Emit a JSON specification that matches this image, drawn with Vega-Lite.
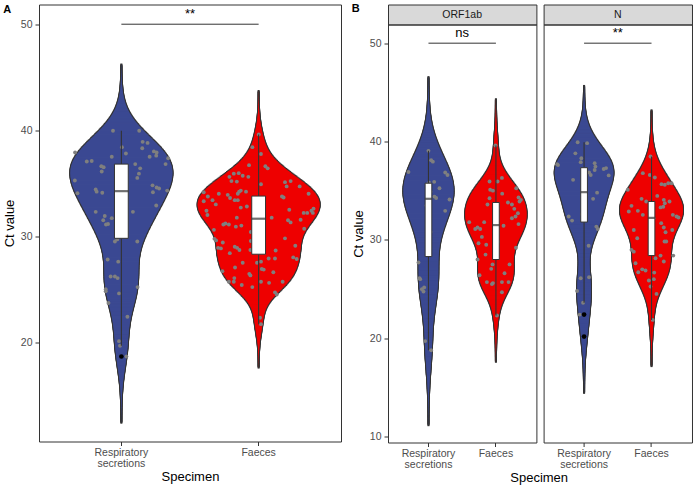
{
"$schema": "https://vega.github.io/schema/vega-lite/v6.json",
"padding": {"left": 2, "top": 2.5, "right": 2, "bottom": 2},
"autosize": {"type": "pad"},
"config": {
"font": "Liberation Sans",
"view": {"stroke": "#333333", "strokeWidth": 1},
"axis": {"grid": false, "domain": false, "tickColor": "#333333", "tickSize": 4, "tickWidth": 1, "labelColor": "#4D4D4D", "labelFontSize": 10.5, "labelPadding": 3, "titleColor": "#000000", "titleFontSize": 13, "titleFontWeight": "normal", "titlePadding": 4, "labelLineHeight": 11},
"axisX": {"labelPadding": 2, "titlePadding": 1.7},
"axisY": {"labelPadding": 3, "titlePadding": 4},
"title": {"fontSize": 11, "fontWeight": "bold", "color": "#000000", "anchor": "start"}
},
"datasets": {
"sig": [
{"panel": "A", "g1": "Respiratory secretions", "g2": "Faeces", "y": 50, "label": "**"},
{"panel": "ORF1ab", "g1": "Respiratory secretions", "g2": "Faeces", "y": 50, "label": "ns"},
{"panel": "N", "g1": "Respiratory secretions", "g2": "Faeces", "y": 50, "label": "**"}
],
"pts": [
{"panel":"A","Specimen":"Respiratory secretions","Ct":37.9,"jitter":-0.337},
{"panel":"A","Specimen":"Respiratory secretions","Ct":37.05,"jitter":-0.252},
{"panel":"A","Specimen":"Respiratory secretions","Ct":37.1,"jitter":-0.216},
{"panel":"A","Specimen":"Respiratory secretions","Ct":39.95,"jitter":-0.061},
{"panel":"A","Specimen":"Respiratory secretions","Ct":39.95,"jitter":0.13},
{"panel":"A","Specimen":"Respiratory secretions","Ct":38.4,"jitter":0.004},
{"panel":"A","Specimen":"Respiratory secretions","Ct":37.8,"jitter":0.033},
{"panel":"A","Specimen":"Respiratory secretions","Ct":38.9,"jitter":0.155},
{"panel":"A","Specimen":"Respiratory secretions","Ct":38.8,"jitter":0.191},
{"panel":"A","Specimen":"Respiratory secretions","Ct":38.3,"jitter":0.152},
{"panel":"A","Specimen":"Respiratory secretions","Ct":38.0,"jitter":0.237},
{"panel":"A","Specimen":"Respiratory secretions","Ct":37.9,"jitter":0.257},
{"panel":"A","Specimen":"Respiratory secretions","Ct":37.5,"jitter":0.206},
{"panel":"A","Specimen":"Respiratory secretions","Ct":37.6,"jitter":0.254},
{"panel":"A","Specimen":"Respiratory secretions","Ct":37.35,"jitter":0.341},
{"panel":"A","Specimen":"Respiratory secretions","Ct":36.8,"jitter":0.322},
{"panel":"A","Specimen":"Respiratory secretions","Ct":37.5,"jitter":-0.07},
{"panel":"A","Specimen":"Respiratory secretions","Ct":36.6,"jitter":-0.146},
{"panel":"A","Specimen":"Respiratory secretions","Ct":36.5,"jitter":-0.129},
{"panel":"A","Specimen":"Respiratory secretions","Ct":36.1,"jitter":-0.143},
{"panel":"A","Specimen":"Respiratory secretions","Ct":36.8,"jitter":0.101},
{"panel":"A","Specimen":"Respiratory secretions","Ct":36.4,"jitter":0.137},
{"panel":"A","Specimen":"Respiratory secretions","Ct":35.9,"jitter":0.128},
{"panel":"A","Specimen":"Respiratory secretions","Ct":35.5,"jitter":0.116},
{"panel":"A","Specimen":"Respiratory secretions","Ct":35.25,"jitter":-0.339},
{"panel":"A","Specimen":"Respiratory secretions","Ct":34.8,"jitter":0.227},
{"panel":"A","Specimen":"Respiratory secretions","Ct":34.6,"jitter":0.257},
{"panel":"A","Specimen":"Respiratory secretions","Ct":34.5,"jitter":0.275},
{"panel":"A","Specimen":"Respiratory secretions","Ct":34.15,"jitter":0.23},
{"panel":"A","Specimen":"Respiratory secretions","Ct":34.3,"jitter":0.334},
{"panel":"A","Specimen":"Respiratory secretions","Ct":34.4,"jitter":-0.187},
{"panel":"A","Specimen":"Respiratory secretions","Ct":34.2,"jitter":-0.18},
{"panel":"A","Specimen":"Respiratory secretions","Ct":34.1,"jitter":-0.139},
{"panel":"A","Specimen":"Respiratory secretions","Ct":34.05,"jitter":-0.32},
{"panel":"A","Specimen":"Respiratory secretions","Ct":32.9,"jitter":0.254},
{"panel":"A","Specimen":"Respiratory secretions","Ct":32.3,"jitter":-0.187},
{"panel":"A","Specimen":"Respiratory secretions","Ct":31.9,"jitter":-0.121},
{"panel":"A","Specimen":"Respiratory secretions","Ct":31.5,"jitter":-0.132},
{"panel":"A","Specimen":"Respiratory secretions","Ct":31.1,"jitter":-0.112},
{"panel":"A","Specimen":"Respiratory secretions","Ct":31.15,"jitter":-0.097},
{"panel":"A","Specimen":"Respiratory secretions","Ct":31.7,"jitter":-0.07},
{"panel":"A","Specimen":"Respiratory secretions","Ct":32.3,"jitter":0.084},
{"panel":"A","Specimen":"Respiratory secretions","Ct":29.5,"jitter":-0.047},
{"panel":"A","Specimen":"Respiratory secretions","Ct":29.5,"jitter":0.116},
{"panel":"A","Specimen":"Respiratory secretions","Ct":27.8,"jitter":-0.1},
{"panel":"A","Specimen":"Respiratory secretions","Ct":27.6,"jitter":-0.023},
{"panel":"A","Specimen":"Respiratory secretions","Ct":26.2,"jitter":-0.078},
{"panel":"A","Specimen":"Respiratory secretions","Ct":26.2,"jitter":-0.047},
{"panel":"A","Specimen":"Respiratory secretions","Ct":26.05,"jitter":-0.027},
{"panel":"A","Specimen":"Respiratory secretions","Ct":25.0,"jitter":-0.114},
{"panel":"A","Specimen":"Respiratory secretions","Ct":25.2,"jitter":0.118},
{"panel":"A","Specimen":"Respiratory secretions","Ct":24.8,"jitter":-0.114},
{"panel":"A","Specimen":"Respiratory secretions","Ct":24.6,"jitter":-0.017},
{"panel":"A","Specimen":"Respiratory secretions","Ct":23.7,"jitter":-0.094},
{"panel":"A","Specimen":"Respiratory secretions","Ct":22.4,"jitter":0.044},
{"panel":"A","Specimen":"Respiratory secretions","Ct":20.1,"jitter":-0.017},
{"panel":"A","Specimen":"Respiratory secretions","Ct":19.66,"jitter":-0.01},
{"panel":"A","Specimen":"Respiratory secretions","Ct":18.65,"jitter":0.037},
{"panel":"A","Specimen":"Respiratory secretions","Ct":36.2,"jitter":0.02},
{"panel":"A","Specimen":"Respiratory secretions","Ct":35.3,"jitter":-0.03},
{"panel":"A","Specimen":"Respiratory secretions","Ct":34.6,"jitter":0.01},
{"panel":"A","Specimen":"Respiratory secretions","Ct":33.5,"jitter":-0.02},
{"panel":"A","Specimen":"Respiratory secretions","Ct":32.6,"jitter":0.03},
{"panel":"A","Specimen":"Respiratory secretions","Ct":31.4,"jitter":-0.01},
{"panel":"A","Specimen":"Respiratory secretions","Ct":30.1,"jitter":0.02},
{"panel":"A","Specimen":"Respiratory secretions","Ct":29.7,"jitter":-0.03},
{"panel":"A","Specimen":"Faeces","Ct":37.75,"jitter":0.017},
{"panel":"A","Specimen":"Faeces","Ct":36.7,"jitter":-0.07},
{"panel":"A","Specimen":"Faeces","Ct":36.6,"jitter":0.049},
{"panel":"A","Specimen":"Faeces","Ct":36.4,"jitter":0.066},
{"panel":"A","Specimen":"Faeces","Ct":35.9,"jitter":-0.181},
{"panel":"A","Specimen":"Faeces","Ct":35.95,"jitter":-0.145},
{"panel":"A","Specimen":"Faeces","Ct":35.7,"jitter":-0.116},
{"panel":"A","Specimen":"Faeces","Ct":35.6,"jitter":-0.213},
{"panel":"A","Specimen":"Faeces","Ct":35.6,"jitter":-0.075},
{"panel":"A","Specimen":"Faeces","Ct":35.2,"jitter":-0.198},
{"panel":"A","Specimen":"Faeces","Ct":35.15,"jitter":-0.159},
{"panel":"A","Specimen":"Faeces","Ct":34.9,"jitter":0.017},
{"panel":"A","Specimen":"Faeces","Ct":35.1,"jitter":0.192},
{"panel":"A","Specimen":"Faeces","Ct":35.2,"jitter":0.233},
{"panel":"A","Specimen":"Faeces","Ct":34.7,"jitter":0.204},
{"panel":"A","Specimen":"Faeces","Ct":34.7,"jitter":0.299},
{"panel":"A","Specimen":"Faeces","Ct":34.2,"jitter":-0.142},
{"panel":"A","Specimen":"Faeces","Ct":34.3,"jitter":-0.13},
{"panel":"A","Specimen":"Faeces","Ct":34.0,"jitter":-0.152},
{"panel":"A","Specimen":"Faeces","Ct":34.2,"jitter":-0.092},
{"panel":"A","Specimen":"Faeces","Ct":34.15,"jitter":-0.4},
{"panel":"A","Specimen":"Faeces","Ct":33.75,"jitter":-0.37},
{"panel":"A","Specimen":"Faeces","Ct":34.0,"jitter":-0.29},
{"panel":"A","Specimen":"Faeces","Ct":33.9,"jitter":-0.225},
{"panel":"A","Specimen":"Faeces","Ct":33.6,"jitter":-0.208},
{"panel":"A","Specimen":"Faeces","Ct":34.0,"jitter":0.364},
{"panel":"A","Specimen":"Faeces","Ct":33.75,"jitter":0.17},
{"panel":"A","Specimen":"Faeces","Ct":33.65,"jitter":0.182},
{"panel":"A","Specimen":"Faeces","Ct":33.3,"jitter":-0.4},
{"panel":"A","Specimen":"Faeces","Ct":33.4,"jitter":-0.336},
{"panel":"A","Specimen":"Faeces","Ct":33.4,"jitter":-0.174},
{"panel":"A","Specimen":"Faeces","Ct":33.4,"jitter":-0.152},
{"panel":"A","Specimen":"Faeces","Ct":33.0,"jitter":-0.312},
{"panel":"A","Specimen":"Faeces","Ct":32.7,"jitter":-0.13},
{"panel":"A","Specimen":"Faeces","Ct":32.8,"jitter":-0.086},
{"panel":"A","Specimen":"Faeces","Ct":32.5,"jitter":0.223},
{"panel":"A","Specimen":"Faeces","Ct":32.2,"jitter":0.328},
{"panel":"A","Specimen":"Faeces","Ct":32.2,"jitter":0.354},
{"panel":"A","Specimen":"Faeces","Ct":32.4,"jitter":0.385},
{"panel":"A","Specimen":"Faeces","Ct":32.6,"jitter":0.4},
{"panel":"A","Specimen":"Faeces","Ct":32.2,"jitter":0.395},
{"panel":"A","Specimen":"Faeces","Ct":32.4,"jitter":-0.38},
{"panel":"A","Specimen":"Faeces","Ct":32.0,"jitter":-0.373},
{"panel":"A","Specimen":"Faeces","Ct":31.75,"jitter":-0.159},
{"panel":"A","Specimen":"Faeces","Ct":31.75,"jitter":0.095},
{"panel":"A","Specimen":"Faeces","Ct":31.5,"jitter":0.214},
{"panel":"A","Specimen":"Faeces","Ct":31.3,"jitter":0.233},
{"panel":"A","Specimen":"Faeces","Ct":31.55,"jitter":0.306},
{"panel":"A","Specimen":"Faeces","Ct":31.2,"jitter":-0.242},
{"panel":"A","Specimen":"Faeces","Ct":31.1,"jitter":-0.257},
{"panel":"A","Specimen":"Faeces","Ct":31.1,"jitter":-0.217},
{"panel":"A","Specimen":"Faeces","Ct":30.9,"jitter":-0.166},
{"panel":"A","Specimen":"Faeces","Ct":31.0,"jitter":-0.126},
{"panel":"A","Specimen":"Faeces","Ct":30.6,"jitter":-0.326},
{"panel":"A","Specimen":"Faeces","Ct":30.4,"jitter":-0.057},
{"panel":"A","Specimen":"Faeces","Ct":30.7,"jitter":0.332},
{"panel":"A","Specimen":"Faeces","Ct":29.75,"jitter":-0.322},
{"panel":"A","Specimen":"Faeces","Ct":29.6,"jitter":-0.31},
{"panel":"A","Specimen":"Faeces","Ct":29.8,"jitter":0.192},
{"panel":"A","Specimen":"Faeces","Ct":29.4,"jitter":-0.261},
{"panel":"A","Specimen":"Faeces","Ct":29.55,"jitter":-0.057},
{"panel":"A","Specimen":"Faeces","Ct":28.9,"jitter":-0.295},
{"panel":"A","Specimen":"Faeces","Ct":28.85,"jitter":-0.275},
{"panel":"A","Specimen":"Faeces","Ct":29.0,"jitter":-0.174},
{"panel":"A","Specimen":"Faeces","Ct":28.9,"jitter":-0.157},
{"panel":"A","Specimen":"Faeces","Ct":29.1,"jitter":0.267},
{"panel":"A","Specimen":"Faeces","Ct":28.7,"jitter":-0.06},
{"panel":"A","Specimen":"Faeces","Ct":28.4,"jitter":-0.21},
{"panel":"A","Specimen":"Faeces","Ct":28.7,"jitter":-0.14},
{"panel":"A","Specimen":"Faeces","Ct":28.65,"jitter":0.124},
{"panel":"A","Specimen":"Faeces","Ct":27.9,"jitter":0.073},
{"panel":"A","Specimen":"Faeces","Ct":27.9,"jitter":0.119},
{"panel":"A","Specimen":"Faeces","Ct":28.0,"jitter":0.252},
{"panel":"A","Specimen":"Faeces","Ct":27.85,"jitter":0.277},
{"panel":"A","Specimen":"Faeces","Ct":26.7,"jitter":-0.264},
{"panel":"A","Specimen":"Faeces","Ct":27.5,"jitter":-0.116},
{"panel":"A","Specimen":"Faeces","Ct":27.05,"jitter":-0.172},
{"panel":"A","Specimen":"Faeces","Ct":27.5,"jitter":-0.012},
{"panel":"A","Specimen":"Faeces","Ct":27.6,"jitter":0.017},
{"panel":"A","Specimen":"Faeces","Ct":26.9,"jitter":0.023},
{"panel":"A","Specimen":"Faeces","Ct":26.85,"jitter":0.037},
{"panel":"A","Specimen":"Faeces","Ct":26.6,"jitter":0.107},
{"panel":"A","Specimen":"Faeces","Ct":26.45,"jitter":-0.068},
{"panel":"A","Specimen":"Faeces","Ct":26.3,"jitter":-0.06},
{"panel":"A","Specimen":"Faeces","Ct":26.05,"jitter":-0.177},
{"panel":"A","Specimen":"Faeces","Ct":25.7,"jitter":-0.181},
{"panel":"A","Specimen":"Faeces","Ct":25.7,"jitter":-0.217},
{"panel":"A","Specimen":"Faeces","Ct":25.4,"jitter":-0.123},
{"panel":"A","Specimen":"Faeces","Ct":25.2,"jitter":-0.046},
{"panel":"A","Specimen":"Faeces","Ct":25.7,"jitter":0.017},
{"panel":"A","Specimen":"Faeces","Ct":25.6,"jitter":0.076},
{"panel":"A","Specimen":"Faeces","Ct":25.7,"jitter":0.175},
{"panel":"A","Specimen":"Faeces","Ct":24.7,"jitter":0.119},
{"panel":"A","Specimen":"Faeces","Ct":24.5,"jitter":0.132},
{"panel":"A","Specimen":"Faeces","Ct":22.3,"jitter":0.01},
{"panel":"A","Specimen":"Faeces","Ct":21.7,"jitter":0.017},
{"panel":"A","Specimen":"Faeces","Ct":39.6,"jitter":0.001},
{"panel":"A","Specimen":"Faeces","Ct":38.4,"jitter":-0.046},
{"panel":"A","Specimen":"Faeces","Ct":33.5,"jitter":0.02},
{"panel":"A","Specimen":"Faeces","Ct":33.0,"jitter":-0.03},
{"panel":"A","Specimen":"Faeces","Ct":32.6,"jitter":0.01},
{"panel":"A","Specimen":"Faeces","Ct":32.2,"jitter":-0.02},
{"panel":"A","Specimen":"Faeces","Ct":31.9,"jitter":0.03},
{"panel":"A","Specimen":"Faeces","Ct":30.5,"jitter":-0.01},
{"panel":"ORF1ab","Specimen":"Respiratory secretions","Ct":39.05,"jitter":0},
{"panel":"ORF1ab","Specimen":"Respiratory secretions","Ct":38.1,"jitter":0.04},
{"panel":"ORF1ab","Specimen":"Respiratory secretions","Ct":37.95,"jitter":0.065},
{"panel":"ORF1ab","Specimen":"Respiratory secretions","Ct":36.9,"jitter":-0.297},
{"panel":"ORF1ab","Specimen":"Respiratory secretions","Ct":36.85,"jitter":0.248},
{"panel":"ORF1ab","Specimen":"Respiratory secretions","Ct":36.6,"jitter":0.282},
{"panel":"ORF1ab","Specimen":"Respiratory secretions","Ct":35.9,"jitter":0.085},
{"panel":"ORF1ab","Specimen":"Respiratory secretions","Ct":35.25,"jitter":0.163},
{"panel":"ORF1ab","Specimen":"Respiratory secretions","Ct":34.1,"jitter":0.312},
{"panel":"ORF1ab","Specimen":"Respiratory secretions","Ct":34.4,"jitter":0.089},
{"panel":"ORF1ab","Specimen":"Respiratory secretions","Ct":34.25,"jitter":0.114},
{"panel":"ORF1ab","Specimen":"Respiratory secretions","Ct":32.95,"jitter":0.248},
{"panel":"ORF1ab","Specimen":"Respiratory secretions","Ct":27.7,"jitter":-0.148},
{"panel":"ORF1ab","Specimen":"Respiratory secretions","Ct":26.1,"jitter":-0.134},
{"panel":"ORF1ab","Specimen":"Respiratory secretions","Ct":26.0,"jitter":-0.123},
{"panel":"ORF1ab","Specimen":"Respiratory secretions","Ct":24.97,"jitter":-0.098},
{"panel":"ORF1ab","Specimen":"Respiratory secretions","Ct":24.74,"jitter":-0.074},
{"panel":"ORF1ab","Specimen":"Respiratory secretions","Ct":25.15,"jitter":-0.064},
{"panel":"ORF1ab","Specimen":"Respiratory secretions","Ct":19.7,"jitter":-0.049},
{"panel":"ORF1ab","Specimen":"Respiratory secretions","Ct":18.77,"jitter":0.04},
{"panel":"ORF1ab","Specimen":"Respiratory secretions","Ct":35.8,"jitter":0.01},
{"panel":"ORF1ab","Specimen":"Respiratory secretions","Ct":35.64,"jitter":-0.02},
{"panel":"ORF1ab","Specimen":"Respiratory secretions","Ct":34.9,"jitter":0.03},
{"panel":"ORF1ab","Specimen":"Respiratory secretions","Ct":34.5,"jitter":-0.01},
{"panel":"ORF1ab","Specimen":"Respiratory secretions","Ct":34.3,"jitter":0.02},
{"panel":"ORF1ab","Specimen":"Respiratory secretions","Ct":33.5,"jitter":-0.03},
{"panel":"ORF1ab","Specimen":"Respiratory secretions","Ct":32.5,"jitter":0.01},
{"panel":"ORF1ab","Specimen":"Respiratory secretions","Ct":31.5,"jitter":-0.02},
{"panel":"ORF1ab","Specimen":"Respiratory secretions","Ct":30.8,"jitter":0.03},
{"panel":"ORF1ab","Specimen":"Respiratory secretions","Ct":30.1,"jitter":-0.01},
{"panel":"ORF1ab","Specimen":"Faeces","Ct":39.6,"jitter":-0.006},
{"panel":"ORF1ab","Specimen":"Faeces","Ct":36.3,"jitter":0.089},
{"panel":"ORF1ab","Specimen":"Faeces","Ct":35.93,"jitter":-0.095},
{"panel":"ORF1ab","Specimen":"Faeces","Ct":35.93,"jitter":0.024},
{"panel":"ORF1ab","Specimen":"Faeces","Ct":35.1,"jitter":-0.085},
{"panel":"ORF1ab","Specimen":"Faeces","Ct":35.0,"jitter":-0.045},
{"panel":"ORF1ab","Specimen":"Faeces","Ct":34.7,"jitter":0.093},
{"panel":"ORF1ab","Specimen":"Faeces","Ct":35.25,"jitter":0.301},
{"panel":"ORF1ab","Specimen":"Faeces","Ct":34.23,"jitter":-0.095},
{"panel":"ORF1ab","Specimen":"Faeces","Ct":33.6,"jitter":-0.125},
{"panel":"ORF1ab","Specimen":"Faeces","Ct":33.8,"jitter":0.178},
{"panel":"ORF1ab","Specimen":"Faeces","Ct":33.6,"jitter":0.237},
{"panel":"ORF1ab","Specimen":"Faeces","Ct":34.3,"jitter":0.335},
{"panel":"ORF1ab","Specimen":"Faeces","Ct":34.07,"jitter":0.371},
{"panel":"ORF1ab","Specimen":"Faeces","Ct":33.9,"jitter":0.35},
{"panel":"ORF1ab","Specimen":"Faeces","Ct":33.15,"jitter":0.272},
{"panel":"ORF1ab","Specimen":"Faeces","Ct":32.7,"jitter":0.326},
{"panel":"ORF1ab","Specimen":"Faeces","Ct":32.37,"jitter":0.291},
{"panel":"ORF1ab","Specimen":"Faeces","Ct":32.2,"jitter":0.237},
{"panel":"ORF1ab","Specimen":"Faeces","Ct":31.8,"jitter":-0.396},
{"panel":"ORF1ab","Specimen":"Faeces","Ct":31.1,"jitter":-0.307},
{"panel":"ORF1ab","Specimen":"Faeces","Ct":31.25,"jitter":-0.273},
{"panel":"ORF1ab","Specimen":"Faeces","Ct":31.1,"jitter":-0.233},
{"panel":"ORF1ab","Specimen":"Faeces","Ct":31.8,"jitter":-0.174},
{"panel":"ORF1ab","Specimen":"Faeces","Ct":31.43,"jitter":0.113},
{"panel":"ORF1ab","Specimen":"Faeces","Ct":31.6,"jitter":0.335},
{"panel":"ORF1ab","Specimen":"Faeces","Ct":29.65,"jitter":-0.258},
{"panel":"ORF1ab","Specimen":"Faeces","Ct":29.2,"jitter":0.297},
{"panel":"ORF1ab","Specimen":"Faeces","Ct":28.5,"jitter":-0.154},
{"panel":"ORF1ab","Specimen":"Faeces","Ct":28.0,"jitter":-0.273},
{"panel":"ORF1ab","Specimen":"Faeces","Ct":27.5,"jitter":0.202},
{"panel":"ORF1ab","Specimen":"Faeces","Ct":27.05,"jitter":-0.07},
{"panel":"ORF1ab","Specimen":"Faeces","Ct":27.5,"jitter":-0.05},
{"panel":"ORF1ab","Specimen":"Faeces","Ct":26.6,"jitter":0.128},
{"panel":"ORF1ab","Specimen":"Faeces","Ct":26.4,"jitter":-0.243},
{"panel":"ORF1ab","Specimen":"Faeces","Ct":25.7,"jitter":-0.134},
{"panel":"ORF1ab","Specimen":"Faeces","Ct":25.5,"jitter":-0.059},
{"panel":"ORF1ab","Specimen":"Faeces","Ct":25.6,"jitter":-0.045},
{"panel":"ORF1ab","Specimen":"Faeces","Ct":25.7,"jitter":0.089},
{"panel":"ORF1ab","Specimen":"Faeces","Ct":25.7,"jitter":0.187},
{"panel":"ORF1ab","Specimen":"Faeces","Ct":24.67,"jitter":0.089},
{"panel":"ORF1ab","Specimen":"Faeces","Ct":22.3,"jitter":0.015},
{"panel":"ORF1ab","Specimen":"Faeces","Ct":30.3,"jitter":-0.208},
{"panel":"ORF1ab","Specimen":"Faeces","Ct":29.5,"jitter":-0.144},
{"panel":"ORF1ab","Specimen":"Faeces","Ct":33.2,"jitter":0.02},
{"panel":"ORF1ab","Specimen":"Faeces","Ct":32.5,"jitter":-0.02},
{"panel":"ORF1ab","Specimen":"Faeces","Ct":31.5,"jitter":0.01},
{"panel":"ORF1ab","Specimen":"Faeces","Ct":30.8,"jitter":-0.03},
{"panel":"ORF1ab","Specimen":"Faeces","Ct":29.8,"jitter":0.03},
{"panel":"N","Specimen":"Respiratory secretions","Ct":39.93,"jitter":-0.095},
{"panel":"N","Specimen":"Respiratory secretions","Ct":39.83,"jitter":0.045},
{"panel":"N","Specimen":"Respiratory secretions","Ct":38.8,"jitter":-0.129},
{"panel":"N","Specimen":"Respiratory secretions","Ct":38.3,"jitter":-0.04},
{"panel":"N","Specimen":"Respiratory secretions","Ct":37.9,"jitter":-0.05},
{"panel":"N","Specimen":"Respiratory secretions","Ct":37.8,"jitter":0.157},
{"panel":"N","Specimen":"Respiratory secretions","Ct":37.45,"jitter":0.168},
{"panel":"N","Specimen":"Respiratory secretions","Ct":36.85,"jitter":0.074},
{"panel":"N","Specimen":"Respiratory secretions","Ct":36.6,"jitter":0.098},
{"panel":"N","Specimen":"Respiratory secretions","Ct":37.2,"jitter":0.291},
{"panel":"N","Specimen":"Respiratory secretions","Ct":37.3,"jitter":0.326},
{"panel":"N","Specimen":"Respiratory secretions","Ct":37.6,"jitter":-0.386},
{"panel":"N","Specimen":"Respiratory secretions","Ct":37.7,"jitter":-0.4},
{"panel":"N","Specimen":"Respiratory secretions","Ct":37.1,"jitter":0.157},
{"panel":"N","Specimen":"Respiratory secretions","Ct":36.55,"jitter":0.365},
{"panel":"N","Specimen":"Respiratory secretions","Ct":36.1,"jitter":-0.163},
{"panel":"N","Specimen":"Respiratory secretions","Ct":34.8,"jitter":0.193},
{"panel":"N","Specimen":"Respiratory secretions","Ct":34.17,"jitter":0.134},
{"panel":"N","Specimen":"Respiratory secretions","Ct":32.37,"jitter":-0.228},
{"panel":"N","Specimen":"Respiratory secretions","Ct":31.96,"jitter":-0.178},
{"panel":"N","Specimen":"Respiratory secretions","Ct":31.35,"jitter":0.182},
{"panel":"N","Specimen":"Respiratory secretions","Ct":31.1,"jitter":0.202},
{"panel":"N","Specimen":"Respiratory secretions","Ct":29.4,"jitter":0.068},
{"panel":"N","Specimen":"Respiratory secretions","Ct":26.1,"jitter":-0.05},
{"panel":"N","Specimen":"Respiratory secretions","Ct":26.2,"jitter":0.074},
{"panel":"N","Specimen":"Respiratory secretions","Ct":24.8,"jitter":-0.104},
{"panel":"N","Specimen":"Respiratory secretions","Ct":23.6,"jitter":-0.015},
{"panel":"N","Specimen":"Respiratory secretions","Ct":22.4,"jitter":-0.065},
{"panel":"N","Specimen":"Respiratory secretions","Ct":20.16,"jitter":0},
{"panel":"N","Specimen":"Respiratory secretions","Ct":36.0,"jitter":0.02},
{"panel":"N","Specimen":"Respiratory secretions","Ct":34.9,"jitter":-0.02},
{"panel":"N","Specimen":"Respiratory secretions","Ct":34.5,"jitter":0.03},
{"panel":"N","Specimen":"Respiratory secretions","Ct":33.8,"jitter":-0.01},
{"panel":"N","Specimen":"Respiratory secretions","Ct":33.2,"jitter":0.02},
{"panel":"N","Specimen":"Respiratory secretions","Ct":32.6,"jitter":-0.03},
{"panel":"N","Specimen":"Respiratory secretions","Ct":32.0,"jitter":0.01},
{"panel":"N","Specimen":"Faeces","Ct":38.47,"jitter":-0.015},
{"panel":"N","Specimen":"Faeces","Ct":36.78,"jitter":-0.129},
{"panel":"N","Specimen":"Faeces","Ct":36.6,"jitter":-0.025},
{"panel":"N","Specimen":"Faeces","Ct":36.34,"jitter":0.049},
{"panel":"N","Specimen":"Faeces","Ct":35.66,"jitter":0.148},
{"panel":"N","Specimen":"Faeces","Ct":35.6,"jitter":0.197},
{"panel":"N","Specimen":"Faeces","Ct":35.76,"jitter":0.248},
{"panel":"N","Specimen":"Faeces","Ct":35.76,"jitter":0.297},
{"panel":"N","Specimen":"Faeces","Ct":35.1,"jitter":-0.352},
{"panel":"N","Specimen":"Faeces","Ct":33.46,"jitter":-0.297},
{"panel":"N","Specimen":"Faeces","Ct":34.17,"jitter":-0.148},
{"panel":"N","Specimen":"Faeces","Ct":33.9,"jitter":-0.079},
{"panel":"N","Specimen":"Faeces","Ct":34.47,"jitter":0.085},
{"panel":"N","Specimen":"Faeces","Ct":34.07,"jitter":0.182},
{"panel":"N","Specimen":"Faeces","Ct":33.72,"jitter":0.197},
{"panel":"N","Specimen":"Faeces","Ct":33.3,"jitter":0.134},
{"panel":"N","Specimen":"Faeces","Ct":33.36,"jitter":0.174},
{"panel":"N","Specimen":"Faeces","Ct":33.9,"jitter":0.267},
{"panel":"N","Specimen":"Faeces","Ct":32.88,"jitter":-0.337},
{"panel":"N","Specimen":"Faeces","Ct":32.95,"jitter":-0.203},
{"panel":"N","Specimen":"Faeces","Ct":32.54,"jitter":-0.129},
{"panel":"N","Specimen":"Faeces","Ct":32.54,"jitter":0.316},
{"panel":"N","Specimen":"Faeces","Ct":32.37,"jitter":0.371},
{"panel":"N","Specimen":"Faeces","Ct":32.27,"jitter":0.4},
{"panel":"N","Specimen":"Faeces","Ct":31.25,"jitter":0.182},
{"panel":"N","Specimen":"Faeces","Ct":30.77,"jitter":0.208},
{"panel":"N","Specimen":"Faeces","Ct":31.7,"jitter":0.144},
{"panel":"N","Specimen":"Faeces","Ct":31.0,"jitter":-0.263},
{"panel":"N","Specimen":"Faeces","Ct":30.16,"jitter":-0.212},
{"panel":"N","Specimen":"Faeces","Ct":31.0,"jitter":0.307},
{"panel":"N","Specimen":"Faeces","Ct":29.83,"jitter":0.193},
{"panel":"N","Specimen":"Faeces","Ct":29.83,"jitter":0.218},
{"panel":"N","Specimen":"Faeces","Ct":28.4,"jitter":0.322},
{"panel":"N","Specimen":"Faeces","Ct":28.98,"jitter":-0.297},
{"panel":"N","Specimen":"Faeces","Ct":28.8,"jitter":-0.263},
{"panel":"N","Specimen":"Faeces","Ct":28.13,"jitter":0.059},
{"panel":"N","Specimen":"Faeces","Ct":28.4,"jitter":0.134},
{"panel":"N","Specimen":"Faeces","Ct":27.62,"jitter":-0.237},
{"panel":"N","Specimen":"Faeces","Ct":27.0,"jitter":-0.138},
{"panel":"N","Specimen":"Faeces","Ct":26.88,"jitter":-0.089},
{"panel":"N","Specimen":"Faeces","Ct":26.7,"jitter":-0.197},
{"panel":"N","Specimen":"Faeces","Ct":25.86,"jitter":-0.04},
{"panel":"N","Specimen":"Faeces","Ct":26.0,"jitter":0.034},
{"panel":"N","Specimen":"Faeces","Ct":25.25,"jitter":-0.015},
{"panel":"N","Specimen":"Faeces","Ct":24.5,"jitter":0.074},
{"panel":"N","Specimen":"Faeces","Ct":27.8,"jitter":0.182},
{"panel":"N","Specimen":"Faeces","Ct":26.67,"jitter":0.04},
{"panel":"N","Specimen":"Faeces","Ct":21.86,"jitter":0.019},
{"panel":"N","Specimen":"Faeces","Ct":33.5,"jitter":0.02},
{"panel":"N","Specimen":"Faeces","Ct":32.9,"jitter":-0.02},
{"panel":"N","Specimen":"Faeces","Ct":32.2,"jitter":0.03},
{"panel":"N","Specimen":"Faeces","Ct":31.5,"jitter":-0.01}
]
},
"spacing": 9,
"bounds": "full",
"resolve": {"scale": {"xOffset": "independent", "size": "independent"}},
"hconcat": [
{
"width": 302, "height": 437,
"title": {"text": "A", "anchor": "start", "frame": "bounds", "offset": -10},
"data": {"name": "pts"},
"transform": [{"filter": "datum.panel == 'A'"}],
"resolve": {"scale": {"size": "independent"}},
"layer": [
{"transform": [{"filter": "datum.Specimen == 'Respiratory secretions'"}, {"density": "Ct", "groupby": ["Specimen"], "bandwidth": 2.07, "extent": [12.45, 46.15], "steps": 450}],
 "mark": {"type": "tick", "orient": "horizontal", "thickness": 3, "opacity": 1, "color": "#333333"},
 "encoding": {
  "x": {"field": "Specimen", "type": "nominal", "title": "Specimen", "scale": {"type": "band", "domain": ["Respiratory secretions", "Faeces"], "paddingInner": 0, "paddingOuter": 0.1}, "axis": {"labelExpr": "split(datum.label, ' ')", "labelAngle": 0}},
  "y": {"field": "value", "type": "quantitative", "title": "Ct value", "scale": {"domain": [10.63, 51.86], "nice": false, "zero": false}, "axis": {"values": [20, 30, 40, 50]}},
  "size": {"field": "density", "type": "quantitative", "scale": {"domain": [0, 0.105], "range": [2, 125.9]}, "legend": null}}},
{"transform": [{"filter": "datum.Specimen == 'Faeces'"}, {"density": "Ct", "groupby": ["Specimen"], "bandwidth": 1.35, "extent": [17.65, 43.65], "steps": 350}],
 "mark": {"type": "tick", "orient": "horizontal", "thickness": 3, "opacity": 1, "color": "#333333"},
 "encoding": {
  "x": {"field": "Specimen", "type": "nominal", "title": "Specimen", "scale": {"type": "band", "domain": ["Respiratory secretions", "Faeces"], "paddingInner": 0, "paddingOuter": 0.1}, "axis": {"labelExpr": "split(datum.label, ' ')", "labelAngle": 0}},
  "y": {"field": "value", "type": "quantitative", "title": "Ct value", "scale": {"domain": [10.63, 51.86], "nice": false, "zero": false}, "axis": {"values": [20, 30, 40, 50]}},
  "size": {"field": "density", "type": "quantitative", "scale": {"domain": [0, 0.105], "range": [2, 125.9]}, "legend": null}}},
{"transform": [{"filter": "datum.Specimen == 'Respiratory secretions'"}, {"density": "Ct", "groupby": ["Specimen"], "bandwidth": 2.07, "extent": [12.45, 46.15], "steps": 450}],
 "mark": {"type": "tick", "orient": "horizontal", "thickness": 1.6, "opacity": 1, "color": "#3B4992"},
 "encoding": {
  "x": {"field": "Specimen", "type": "nominal", "title": "Specimen", "scale": {"type": "band", "domain": ["Respiratory secretions", "Faeces"], "paddingInner": 0, "paddingOuter": 0.1}, "axis": {"labelExpr": "split(datum.label, ' ')", "labelAngle": 0}},
  "y": {"field": "value", "type": "quantitative", "title": "Ct value", "scale": {"domain": [10.63, 51.86], "nice": false, "zero": false}, "axis": {"values": [20, 30, 40, 50]}},
  "size": {"field": "density", "type": "quantitative", "scale": {"domain": [0, 0.105], "range": [0, 123.9]}, "legend": null}}},
{"transform": [{"filter": "datum.Specimen == 'Faeces'"}, {"density": "Ct", "groupby": ["Specimen"], "bandwidth": 1.35, "extent": [17.65, 43.65], "steps": 350}],
 "mark": {"type": "tick", "orient": "horizontal", "thickness": 1.6, "opacity": 1, "color": "#EE0000"},
 "encoding": {
  "x": {"field": "Specimen", "type": "nominal", "title": "Specimen", "scale": {"type": "band", "domain": ["Respiratory secretions", "Faeces"], "paddingInner": 0, "paddingOuter": 0.1}, "axis": {"labelExpr": "split(datum.label, ' ')", "labelAngle": 0}},
  "y": {"field": "value", "type": "quantitative", "title": "Ct value", "scale": {"domain": [10.63, 51.86], "nice": false, "zero": false}, "axis": {"values": [20, 30, 40, 50]}},
  "size": {"field": "density", "type": "quantitative", "scale": {"domain": [0, 0.105], "range": [0, 123.9]}, "legend": null}}},
{"mark": {"type": "circle", "size": 15, "color": "#7F7F7F", "opacity": 1},
 "encoding": {
  "x": {"field": "Specimen", "type": "nominal", "title": "Specimen", "scale": {"type": "band", "domain": ["Respiratory secretions", "Faeces"], "paddingInner": 0, "paddingOuter": 0.1}, "axis": {"labelExpr": "split(datum.label, ' ')", "labelAngle": 0}},
  "xOffset": {"field": "jitter", "type": "quantitative", "scale": {"domain": [-0.5, 0.5], "range": [0, 137.27]}},
  "y": {"field": "Ct", "type": "quantitative", "title": "Ct value", "scale": {"domain": [10.63, 51.86], "nice": false, "zero": false}, "axis": {"values": [20, 30, 40, 50]}}}},
{"mark": {"type": "boxplot", "extent": 1.5, "size": 13.8, "box": {"color": "white", "stroke": "#333333", "strokeWidth": 1}, "median": {"color": "#333333", "thickness": 2.2}, "rule": {"color": "#333333", "strokeWidth": 1.1}, "outliers": {"color": "black", "size": 22, "filled": true, "opacity": 1}},
 "encoding": {
  "x": {"field": "Specimen", "type": "nominal", "title": "Specimen", "scale": {"type": "band", "domain": ["Respiratory secretions", "Faeces"], "paddingInner": 0, "paddingOuter": 0.1}, "axis": {"labelExpr": "split(datum.label, ' ')", "labelAngle": 0}},
  "y": {"field": "Ct", "type": "quantitative", "title": "Ct value", "scale": {"domain": [10.63, 51.86], "nice": false, "zero": false}, "axis": {"values": [20, 30, 40, 50]}}}},
{"data": {"name": "sig"}, "transform": [{"filter": "datum.panel == 'A'"}],
 "mark": {"type": "rule", "color": "#333333", "strokeWidth": 1},
 "encoding": {
  "x": {"field": "g1", "type": "nominal", "title": "Specimen", "scale": {"type": "band", "domain": ["Respiratory secretions", "Faeces"], "paddingInner": 0, "paddingOuter": 0.1}, "axis": {"labelExpr": "split(datum.label, ' ')", "labelAngle": 0}},
  "x2": {"field": "g2"},
  "y": {"field": "y", "type": "quantitative", "title": "Ct value", "scale": {"domain": [10.63, 51.86], "nice": false, "zero": false}, "axis": {"values": [20, 30, 40, 50]}}}},
{"data": {"name": "sig"}, "transform": [{"filter": "datum.panel == 'A'"}],
 "mark": {"type": "text", "fontSize": 13, "baseline": "alphabetic", "dy": -6, "color": "#000000"},
 "encoding": {
  "x": {"field": "g1", "type": "nominal", "bandPosition": 1, "title": "Specimen", "scale": {"type": "band", "domain": ["Respiratory secretions", "Faeces"], "paddingInner": 0, "paddingOuter": 0.1}, "axis": {"labelExpr": "split(datum.label, ' ')", "labelAngle": 0}},
  "y": {"field": "y", "type": "quantitative", "title": "Ct value", "scale": {"domain": [10.63, 51.86], "nice": false, "zero": false}, "axis": {"values": [20, 30, 40, 50]}},
  "text": {"field": "label"}}}
]
},
{
"title": {"text": "Specimen", "orient": "bottom", "anchor": "middle", "frame": "bounds", "fontSize": 13, "fontWeight": "normal", "color": "#000000", "dx": 17, "offset": 1.7},
"spacing": 5.6,
"bounds": "full",
"resolve": {"scale": {"xOffset": "independent", "size": "independent"}},
"hconcat": [
{"title": {"text": "B", "anchor": "start", "frame": "bounds", "offset": -10}, "spacing": 0, "bounds": "flush", "vconcat": [
{"width": 148.4, "height": 20, "view": {"fill": "#D9D9D9", "stroke": "#333333"},
 "data": {"values": [{"gene": "ORF1ab"}]},
 "mark": {"type": "text", "fontSize": 10.5, "color": "#1A1A1A"},
 "encoding": {"text": {"field": "gene"}}},
{"width": 148.4, "height": 418,
 "data": {"name": "pts"},
 "transform": [{"filter": "datum.panel == 'ORF1ab'"}],
 "resolve": {"scale": {"size": "independent"}},
 "layer": [
{"transform": [{"filter": "datum.Specimen == 'Respiratory secretions'"}, {"density": "Ct", "groupby": ["Specimen"], "bandwidth": 2.6, "extent": [11.2, 46.5], "steps": 420}],
 "mark": {"type": "tick", "orient": "horizontal", "thickness": 3, "opacity": 1, "color": "#333333"},
 "encoding": {
  "x": {"field": "Specimen", "type": "nominal", "title": null, "scale": {"type": "band", "domain": ["Respiratory secretions", "Faeces"], "paddingInner": 0, "paddingOuter": 0.1}, "axis": {"labelExpr": "split(datum.label, ' ')", "labelAngle": 0}},
  "y": {"field": "value", "type": "quantitative", "title": "Ct value", "scale": {"domain": [9.39, 51.9], "nice": false, "zero": false}, "axis": {"values": [10, 20, 30, 40, 50]}},
  "size": {"field": "density", "type": "quantitative", "scale": {"domain": [0, 0.102], "range": [2, 62.7]}, "legend": null}}},
{"transform": [{"filter": "datum.Specimen == 'Faeces'"}, {"density": "Ct", "groupby": ["Specimen"], "bandwidth": 1.55, "extent": [17.65, 44.25], "steps": 320}],
 "mark": {"type": "tick", "orient": "horizontal", "thickness": 3, "opacity": 1, "color": "#333333"},
 "encoding": {
  "x": {"field": "Specimen", "type": "nominal", "title": null, "scale": {"type": "band", "domain": ["Respiratory secretions", "Faeces"], "paddingInner": 0, "paddingOuter": 0.1}, "axis": {"labelExpr": "split(datum.label, ' ')", "labelAngle": 0}},
  "y": {"field": "value", "type": "quantitative", "title": "Ct value", "scale": {"domain": [9.39, 51.9], "nice": false, "zero": false}, "axis": {"values": [10, 20, 30, 40, 50]}},
  "size": {"field": "density", "type": "quantitative", "scale": {"domain": [0, 0.102], "range": [2, 62.7]}, "legend": null}}},
{"transform": [{"filter": "datum.Specimen == 'Respiratory secretions'"}, {"density": "Ct", "groupby": ["Specimen"], "bandwidth": 2.6, "extent": [11.2, 46.5], "steps": 420}],
 "mark": {"type": "tick", "orient": "horizontal", "thickness": 1.6, "opacity": 1, "color": "#3B4992"},
 "encoding": {
  "x": {"field": "Specimen", "type": "nominal", "title": null, "scale": {"type": "band", "domain": ["Respiratory secretions", "Faeces"], "paddingInner": 0, "paddingOuter": 0.1}, "axis": {"labelExpr": "split(datum.label, ' ')", "labelAngle": 0}},
  "y": {"field": "value", "type": "quantitative", "title": "Ct value", "scale": {"domain": [9.39, 51.9], "nice": false, "zero": false}, "axis": {"values": [10, 20, 30, 40, 50]}},
  "size": {"field": "density", "type": "quantitative", "scale": {"domain": [0, 0.102], "range": [0, 60.7]}, "legend": null}}},
{"transform": [{"filter": "datum.Specimen == 'Faeces'"}, {"density": "Ct", "groupby": ["Specimen"], "bandwidth": 1.55, "extent": [17.65, 44.25], "steps": 320}],
 "mark": {"type": "tick", "orient": "horizontal", "thickness": 1.6, "opacity": 1, "color": "#EE0000"},
 "encoding": {
  "x": {"field": "Specimen", "type": "nominal", "title": null, "scale": {"type": "band", "domain": ["Respiratory secretions", "Faeces"], "paddingInner": 0, "paddingOuter": 0.1}, "axis": {"labelExpr": "split(datum.label, ' ')", "labelAngle": 0}},
  "y": {"field": "value", "type": "quantitative", "title": "Ct value", "scale": {"domain": [9.39, 51.9], "nice": false, "zero": false}, "axis": {"values": [10, 20, 30, 40, 50]}},
  "size": {"field": "density", "type": "quantitative", "scale": {"domain": [0, 0.102], "range": [0, 60.7]}, "legend": null}}},
{"mark": {"type": "circle", "size": 15, "color": "#7F7F7F", "opacity": 1},
 "encoding": {
  "x": {"field": "Specimen", "type": "nominal", "title": null, "scale": {"type": "band", "domain": ["Respiratory secretions", "Faeces"], "paddingInner": 0, "paddingOuter": 0.1}, "axis": {"labelExpr": "split(datum.label, ' ')", "labelAngle": 0}},
  "xOffset": {"field": "jitter", "type": "quantitative", "scale": {"domain": [-0.5, 0.5], "range": [0, 67.45]}},
  "y": {"field": "Ct", "type": "quantitative", "title": "Ct value", "scale": {"domain": [9.39, 51.9], "nice": false, "zero": false}, "axis": {"values": [10, 20, 30, 40, 50]}}}},
{"mark": {"type": "boxplot", "extent": 1.5, "size": 6.7, "box": {"color": "white", "stroke": "#333333", "strokeWidth": 1}, "median": {"color": "#333333", "thickness": 2.2}, "rule": {"color": "#333333", "strokeWidth": 1.1}, "outliers": {"color": "black", "size": 22, "filled": true, "opacity": 1}},
 "encoding": {
  "x": {"field": "Specimen", "type": "nominal", "title": null, "scale": {"type": "band", "domain": ["Respiratory secretions", "Faeces"], "paddingInner": 0, "paddingOuter": 0.1}, "axis": {"labelExpr": "split(datum.label, ' ')", "labelAngle": 0}},
  "y": {"field": "Ct", "type": "quantitative", "title": "Ct value", "scale": {"domain": [9.39, 51.9], "nice": false, "zero": false}, "axis": {"values": [10, 20, 30, 40, 50]}}}},
{"data": {"name": "sig"}, "transform": [{"filter": "datum.panel == 'ORF1ab'"}],
 "mark": {"type": "rule", "color": "#333333", "strokeWidth": 1},
 "encoding": {
  "x": {"field": "g1", "type": "nominal", "title": null, "scale": {"type": "band", "domain": ["Respiratory secretions", "Faeces"], "paddingInner": 0, "paddingOuter": 0.1}, "axis": {"labelExpr": "split(datum.label, ' ')", "labelAngle": 0}},
  "x2": {"field": "g2"},
  "y": {"field": "y", "type": "quantitative", "title": "Ct value", "scale": {"domain": [9.39, 51.9], "nice": false, "zero": false}, "axis": {"values": [10, 20, 30, 40, 50]}}}},
{"data": {"name": "sig"}, "transform": [{"filter": "datum.panel == 'ORF1ab'"}],
 "mark": {"type": "text", "fontSize": 13, "baseline": "alphabetic", "dy": -6, "color": "#000000"},
 "encoding": {
  "x": {"field": "g1", "type": "nominal", "bandPosition": 1, "title": null, "scale": {"type": "band", "domain": ["Respiratory secretions", "Faeces"], "paddingInner": 0, "paddingOuter": 0.1}, "axis": {"labelExpr": "split(datum.label, ' ')", "labelAngle": 0}},
  "y": {"field": "y", "type": "quantitative", "title": "Ct value", "scale": {"domain": [9.39, 51.9], "nice": false, "zero": false}, "axis": {"values": [10, 20, 30, 40, 50]}},
  "text": {"field": "label"}}}
 ]}
]},
{"spacing": 0, "bounds": "flush", "vconcat": [
{"width": 148.4, "height": 20, "view": {"fill": "#D9D9D9", "stroke": "#333333"},
 "data": {"values": [{"gene": "N"}]},
 "mark": {"type": "text", "fontSize": 10.5, "color": "#1A1A1A"},
 "encoding": {"text": {"field": "gene"}}},
{"width": 148.4, "height": 418,
 "data": {"name": "pts"},
 "transform": [{"filter": "datum.panel == 'N'"}],
 "resolve": {"scale": {"size": "independent"}},
 "layer": [
{"transform": [{"filter": "datum.Specimen == 'Respiratory secretions'"}, {"density": "Ct", "groupby": ["Specimen"], "bandwidth": 1.89, "extent": [14.49, 45.6], "steps": 380}],
 "mark": {"type": "tick", "orient": "horizontal", "thickness": 3, "opacity": 1, "color": "#333333"},
 "encoding": {
  "x": {"field": "Specimen", "type": "nominal", "title": null, "scale": {"type": "band", "domain": ["Respiratory secretions", "Faeces"], "paddingInner": 0, "paddingOuter": 0.1}, "axis": {"labelExpr": "split(datum.label, ' ')", "labelAngle": 0}},
  "y": {"field": "value", "type": "quantitative", "scale": {"domain": [9.39, 51.9], "nice": false, "zero": false}, "axis": null},
  "size": {"field": "density", "type": "quantitative", "scale": {"domain": [0, 0.102], "range": [2, 62.7]}, "legend": null}}},
{"transform": [{"filter": "datum.Specimen == 'Faeces'"}, {"density": "Ct", "groupby": ["Specimen"], "bandwidth": 1.55, "extent": [17.21, 43.12], "steps": 320}],
 "mark": {"type": "tick", "orient": "horizontal", "thickness": 3, "opacity": 1, "color": "#333333"},
 "encoding": {
  "x": {"field": "Specimen", "type": "nominal", "title": null, "scale": {"type": "band", "domain": ["Respiratory secretions", "Faeces"], "paddingInner": 0, "paddingOuter": 0.1}, "axis": {"labelExpr": "split(datum.label, ' ')", "labelAngle": 0}},
  "y": {"field": "value", "type": "quantitative", "scale": {"domain": [9.39, 51.9], "nice": false, "zero": false}, "axis": null},
  "size": {"field": "density", "type": "quantitative", "scale": {"domain": [0, 0.102], "range": [2, 62.7]}, "legend": null}}},
{"transform": [{"filter": "datum.Specimen == 'Respiratory secretions'"}, {"density": "Ct", "groupby": ["Specimen"], "bandwidth": 1.89, "extent": [14.49, 45.6], "steps": 380}],
 "mark": {"type": "tick", "orient": "horizontal", "thickness": 1.6, "opacity": 1, "color": "#3B4992"},
 "encoding": {
  "x": {"field": "Specimen", "type": "nominal", "title": null, "scale": {"type": "band", "domain": ["Respiratory secretions", "Faeces"], "paddingInner": 0, "paddingOuter": 0.1}, "axis": {"labelExpr": "split(datum.label, ' ')", "labelAngle": 0}},
  "y": {"field": "value", "type": "quantitative", "scale": {"domain": [9.39, 51.9], "nice": false, "zero": false}, "axis": null},
  "size": {"field": "density", "type": "quantitative", "scale": {"domain": [0, 0.102], "range": [0, 60.7]}, "legend": null}}},
{"transform": [{"filter": "datum.Specimen == 'Faeces'"}, {"density": "Ct", "groupby": ["Specimen"], "bandwidth": 1.55, "extent": [17.21, 43.12], "steps": 320}],
 "mark": {"type": "tick", "orient": "horizontal", "thickness": 1.6, "opacity": 1, "color": "#EE0000"},
 "encoding": {
  "x": {"field": "Specimen", "type": "nominal", "title": null, "scale": {"type": "band", "domain": ["Respiratory secretions", "Faeces"], "paddingInner": 0, "paddingOuter": 0.1}, "axis": {"labelExpr": "split(datum.label, ' ')", "labelAngle": 0}},
  "y": {"field": "value", "type": "quantitative", "scale": {"domain": [9.39, 51.9], "nice": false, "zero": false}, "axis": null},
  "size": {"field": "density", "type": "quantitative", "scale": {"domain": [0, 0.102], "range": [0, 60.7]}, "legend": null}}},
{"mark": {"type": "circle", "size": 15, "color": "#7F7F7F", "opacity": 1},
 "encoding": {
  "x": {"field": "Specimen", "type": "nominal", "title": null, "scale": {"type": "band", "domain": ["Respiratory secretions", "Faeces"], "paddingInner": 0, "paddingOuter": 0.1}, "axis": {"labelExpr": "split(datum.label, ' ')", "labelAngle": 0}},
  "xOffset": {"field": "jitter", "type": "quantitative", "scale": {"domain": [-0.5, 0.5], "range": [0, 67.45]}},
  "y": {"field": "Ct", "type": "quantitative", "scale": {"domain": [9.39, 51.9], "nice": false, "zero": false}, "axis": null}}},
{"mark": {"type": "boxplot", "extent": 1.5, "size": 6.7, "box": {"color": "white", "stroke": "#333333", "strokeWidth": 1}, "median": {"color": "#333333", "thickness": 2.2}, "rule": {"color": "#333333", "strokeWidth": 1.1}, "outliers": {"color": "black", "size": 22, "filled": true, "opacity": 1}},
 "encoding": {
  "x": {"field": "Specimen", "type": "nominal", "title": null, "scale": {"type": "band", "domain": ["Respiratory secretions", "Faeces"], "paddingInner": 0, "paddingOuter": 0.1}, "axis": {"labelExpr": "split(datum.label, ' ')", "labelAngle": 0}},
  "y": {"field": "Ct", "type": "quantitative", "scale": {"domain": [9.39, 51.9], "nice": false, "zero": false}, "axis": null}}},
{"data": {"name": "sig"}, "transform": [{"filter": "datum.panel == 'N'"}],
 "mark": {"type": "rule", "color": "#333333", "strokeWidth": 1},
 "encoding": {
  "x": {"field": "g1", "type": "nominal", "title": null, "scale": {"type": "band", "domain": ["Respiratory secretions", "Faeces"], "paddingInner": 0, "paddingOuter": 0.1}, "axis": {"labelExpr": "split(datum.label, ' ')", "labelAngle": 0}},
  "x2": {"field": "g2"},
  "y": {"field": "y", "type": "quantitative", "scale": {"domain": [9.39, 51.9], "nice": false, "zero": false}, "axis": null}}},
{"data": {"name": "sig"}, "transform": [{"filter": "datum.panel == 'N'"}],
 "mark": {"type": "text", "fontSize": 13, "baseline": "alphabetic", "dy": -6, "color": "#000000"},
 "encoding": {
  "x": {"field": "g1", "type": "nominal", "bandPosition": 1, "title": null, "scale": {"type": "band", "domain": ["Respiratory secretions", "Faeces"], "paddingInner": 0, "paddingOuter": 0.1}, "axis": {"labelExpr": "split(datum.label, ' ')", "labelAngle": 0}},
  "y": {"field": "y", "type": "quantitative", "scale": {"domain": [9.39, 51.9], "nice": false, "zero": false}, "axis": null},
  "text": {"field": "label"}}}
 ]}
]}
]
}
]
}
